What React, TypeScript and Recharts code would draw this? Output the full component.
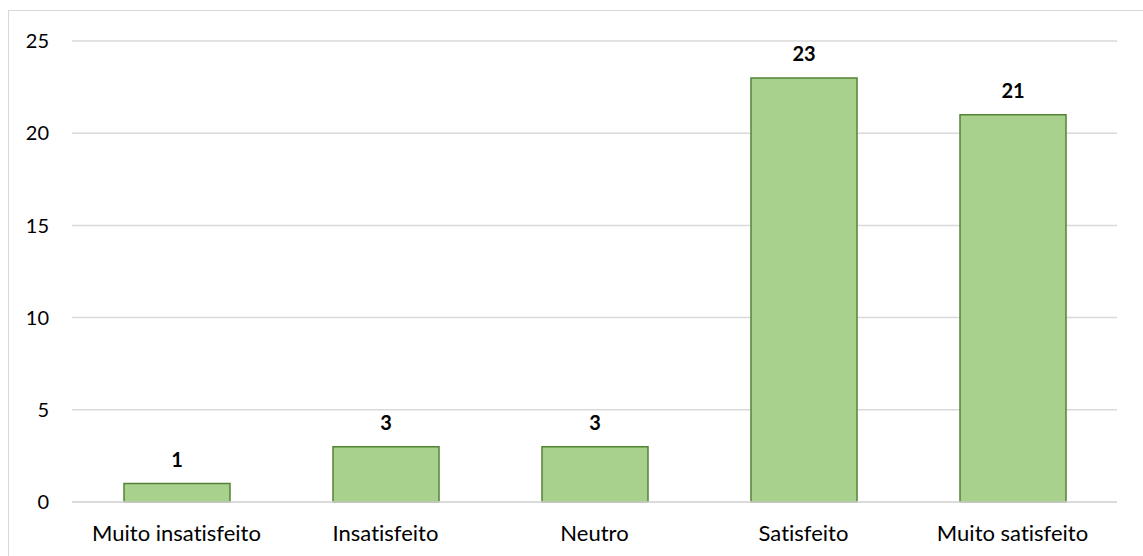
import React from "react";
import { BarChart, Bar, XAxis, YAxis, CartesianGrid, LabelList } from "recharts";

// Satisfaction survey: number of responses per level
const categories = [
  "Muito insatisfeito",
  "Insatisfeito",
  "Neutro",
  "Satisfeito",
  "Muito satisfeito",
];
const responses = [1, 3, 3, 23, 21];
const yTicks = [0, 5, 10, 15, 20, 25];

const data = categories.map((name, i) => ({ name, value: responses[i] }));

const FONT = "Lato, 'Open Sans', sans-serif";

export default function App() {
  return (
    <div
      style={{
        position: "fixed",
        left: 0,
        top: 0,
        width: 1143,
        height: 556,
        overflow: "hidden",
        background: "#fff",
        fontFamily: FONT,
        fontVariantLigatures: "none",
      }}
    >
      <div
        style={{
          position: "absolute",
          left: 8,
          top: 10,
          width: 1200,
          height: 600,
          borderTop: "1px solid #d9d9d9",
          borderLeft: "1px solid #d9d9d9",
          boxSizing: "border-box",
        }}
      >
        <BarChart
          width={1134}
          height={545}
          data={data}
          margin={{ top: 30, right: 26, bottom: 24, left: 0 }}
        >
          <CartesianGrid vertical={false} stroke="#d9d9d9" strokeWidth={1.5} />
          <XAxis
            dataKey="name"
            height={30}
            axisLine={{ stroke: "#d9d9d9", strokeWidth: 1.5 }}
            tickLine={false}
            tickMargin={17}
            tick={{ fill: "#000", fontSize: 22, fontFamily: FONT }}
          />
          <YAxis
            width={63}
            domain={[0, 25]}
            ticks={yTicks}
            axisLine={false}
            tickLine={false}
            tickMargin={17}
            tick={{ fill: "#000", fontSize: 20, fontFamily: FONT }}
          />
          <Bar
            dataKey="value"
            barSize={106}
            fill="#a9d18e"
            stroke="#548235"
            strokeWidth={1.5}
            isAnimationActive={false}
          >
            <LabelList
              dataKey="value"
              position="top"
              offset={17}
              fill="#000"
              fontSize={20}
              fontWeight="bold"
              fontFamily={FONT}
            />
          </Bar>
        </BarChart>
      </div>
    </div>
  );
}
